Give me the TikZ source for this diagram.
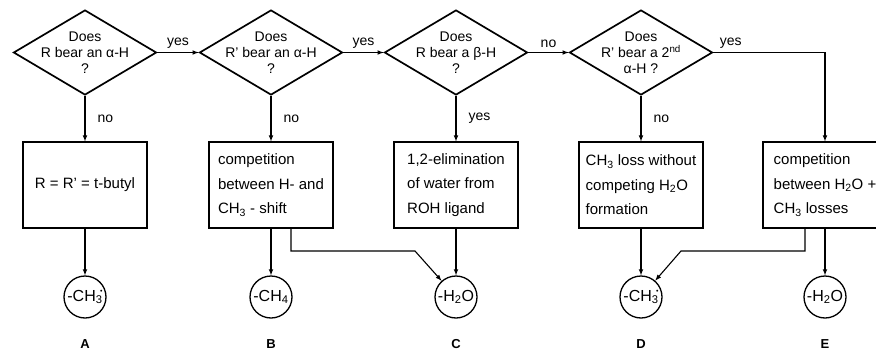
\documentclass[tikz,border=0pt]{standalone}
\usepackage{fontspec}
\setmainfont{Liberation Sans}
\usetikzlibrary{arrows,shapes,positioning}
\newcommand{\raddot}{\llap{\raisebox{7.5pt}{\fontsize{7}{7}\selectfont •}}}
\begin{document}
\begin{tikzpicture}[x=1pt,y=1pt,>=latex]
                    \tikzstyle{every node}+=[inner sep=0pt, font=\fontsize{14}{16}\selectfont]
                    \tikzstyle{question}=[draw, diamond, line width=1.7pt, minimum width=143pt, minimum height=85pt, inner sep=-12pt, align=center]
                    \tikzstyle{result}=[draw, rectangle, line width=1.1pt, minimum width=124pt, minimum height=86pt, align=left, font=\fontsize{15}{24.5}\selectfont]
                    \tikzstyle{loss}=[draw, circle, line width=1.3pt, minimum size=42pt, font=\fontsize{16}{18}\selectfont]
                    \tikzstyle{tag}=[font=\fontsize{13}{15}\selectfont\bfseries]
                    \tikzstyle{link}=[->, line width=1.1pt]
                    \useasboundingbox (0,0) rectangle (876,-351);
                    \node [question] (q1) at (85,-52.5) {Does\\R bear an α-H\\?};
                    \node [question] (q2) at (271,-52.5) {Does\\R' bear an α-H\\?};
                    \node [question] (q3) at (456,-52.5) {Does\\R bear a β-H\\?};
                    \node [question] (q4) at (641,-52.5) {Does\\R' bear a 2\textsuperscript{nd}\\α-H ?};
                    \node [result, align=center] (bA) at (85,-185) {R = R' = t-butyl};
                    \node [result] (bB) at (271,-185) {competition\\between H- and\\CH\textsubscript{3} - shift};
                    \node [result] (bC) at (456,-185) {1,2-elimination\\of water from\\ROH ligand};
                    \node [result] (bD) at (641,-185) {CH\textsubscript{3} loss without\\competing H\textsubscript{2}O\\formation};
                    \node [result] (bE) at (825,-185) {competition\\between H\textsubscript{2}O +\\CH\textsubscript{3} losses};
                    \node [loss] (cA) at (85,-297) {-CH\textsubscript{3}\raddot};
                    \node [loss] (cB) at (271,-297) {-CH\textsubscript{4}};
                    \node [loss] (cC) at (456,-297) {-H\textsubscript{2}O};
                    \node [loss] (cD) at (641,-297) {-CH\textsubscript{3}\raddot};
                    \node [loss] (cE) at (825,-297) {-H\textsubscript{2}O};
                    \node [tag] (tA) at (85,-344) {A};
                    \node [tag] (tB) at (271,-344) {B};
                    \node [tag] (tC) at (456,-344) {C};
                    \node [tag] (tD) at (641,-344) {D};
                    \node [tag] (tE) at (825,-344) {E};
                    \coordinate (jC) at (415,-251);
                    \coordinate (jD) at (681,-251);
                    \draw [link] (q1) -- node [above=4pt] {yes} (q2);
                    \draw [link] (q2) -- node [above=4pt] {yes} (q3);
                    \draw [link] (q3) -- node [above=4pt] {no} (q4);
                    \draw [link] (q4.east) node [above right=4pt and 6pt] {yes} -| (bE.north);
                    \draw [link] (q1) -- node [right=12pt] {no} (bA);
                    \draw [link] (q2) -- node [right=12pt] {no} (bB);
                    \draw [link] (q3) -- node [right=12pt] {yes} (bC);
                    \draw [link] (q4) -- node [right=12pt] {no} (bD);
                    \draw [link] (bA) -- (cA);
                    \draw [link] (bB) -- (cB);
                    \draw [link] (bC) -- (cC);
                    \draw [link] (bD) -- (cD);
                    \draw [link] (bE) -- (cE);
                    \draw [link] ([xshift=20pt]bB.south) |- (jC) -- (cC);
                    \draw [link] ([xshift=-20pt]bE.south) |- (jD) -- (cD);
                \end{tikzpicture}
\end{document}
